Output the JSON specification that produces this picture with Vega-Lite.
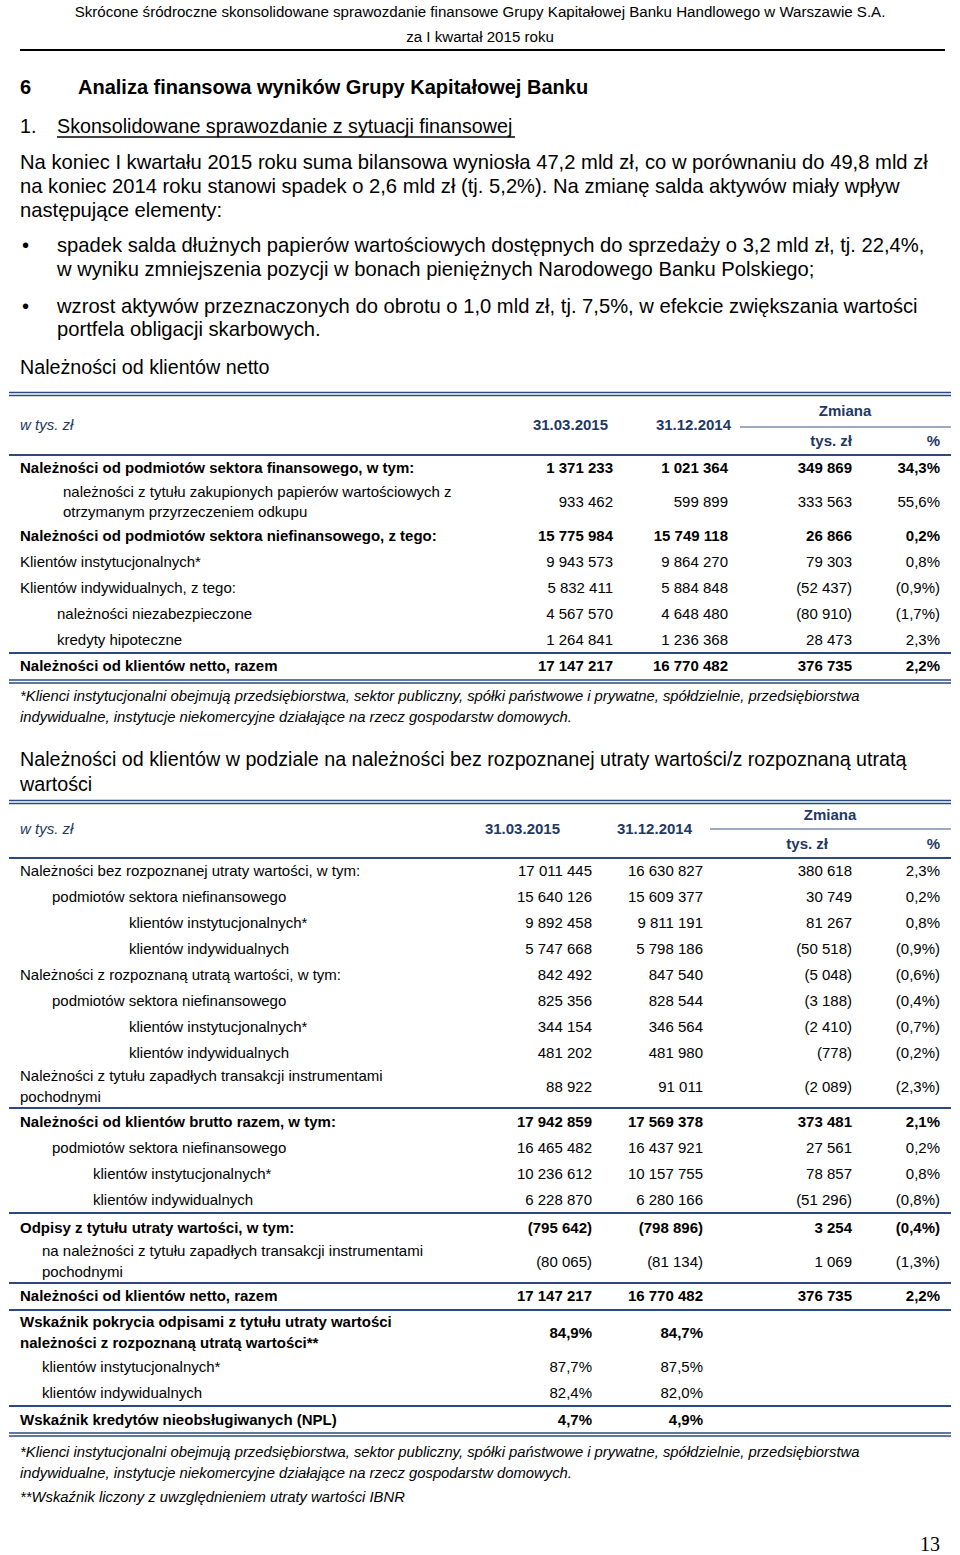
{
 "$schema": "https://vega.github.io/schema/vega-lite/v6.json",
 "width": 960, "height": 1555,
 "autosize": {"type": "fit", "contains": "padding"},
 "padding": 0,
 "background": "white",
 "config": {"view": {"stroke": null}, "text": {"font": "Liberation Sans, Arial, sans-serif", "baseline": "middle", "color": "#000000"}},
 "datasets": {
  "rules": [
   {"k":"blk","l":2,"c":1,"c2":27},
   {"k":"ul","l":5,"c":5,"c2":11},
   {"k":"nvd","l":14,"c":0,"c2":28},
   {"k":"nvd","l":15,"c":0,"c2":28},
   {"k":"nvt","l":18,"c":21,"c2":28},
   {"k":"nv","l":20,"c":0,"c2":28},
   {"k":"nv","l":28,"c":0,"c2":28},
   {"k":"nvd","l":30,"c":0,"c2":28},
   {"k":"nvd","l":31,"c":0,"c2":28},
   {"k":"nvd","l":36,"c":0,"c2":28},
   {"k":"nvd","l":37,"c":0,"c2":28},
   {"k":"nvt","l":39,"c":18,"c2":28},
   {"k":"nv","l":41,"c":0,"c2":28},
   {"k":"nv","l":51,"c":0,"c2":28},
   {"k":"nv","l":56,"c":0,"c2":28},
   {"k":"nv","l":59,"c":0,"c2":28},
   {"k":"nv","l":61,"c":0,"c2":28},
   {"k":"nv","l":65,"c":0,"c2":28},
   {"k":"nvd","l":67,"c":0,"c2":28},
   {"k":"nvd","l":68,"c":0,"c2":28}
  ],
  "texts": [
   {"k":"run","l":0,"c":10,"t":"Skrócone śródroczne skonsolidowane sprawozdanie finansowe Grupy Kapitałowej Banku Handlowego w Warszawie S.A."},
   {"k":"run","l":1,"c":10,"t":"za I kwartał 2015 roku"},
   {"k":"h1","l":3,"c":1,"t":"6"},
   {"k":"h1","l":3,"c":7,"t":"Analiza finansowa wyników Grupy Kapitałowej Banku"},
   {"k":"h2","l":4,"c":1,"t":"1."},
   {"k":"h2","l":4,"c":5,"t":"Skonsolidowane sprawozdanie z sytuacji finansowej"},
   {"k":"body","l":6,"c":1,"t":"Na koniec I kwartału 2015 roku suma bilansowa wyniosła 47,2 mld zł, co w porównaniu do 49,8 mld zł"},
   {"k":"body","l":7,"c":1,"t":"na koniec 2014 roku stanowi spadek o 2,6 mld zł (tj. 5,2%). Na zmianę salda aktywów miały wpływ"},
   {"k":"body","l":8,"c":1,"t":"następujące elementy:"},
   {"k":"body","l":9,"c":2,"t":"•"},
   {"k":"body","l":9,"c":5,"t":"spadek salda dłużnych papierów wartościowych dostępnych do sprzedaży o 3,2 mld zł, tj. 22,4%,"},
   {"k":"body","l":10,"c":5,"t":"w wyniku zmniejszenia pozycji w bonach pieniężnych Narodowego Banku Polskiego;"},
   {"k":"body","l":11,"c":2,"t":"•"},
   {"k":"body","l":11,"c":5,"t":"wzrost aktywów przeznaczonych do obrotu o 1,0 mld  zł, tj. 7,5%, w efekcie zwiększania wartości"},
   {"k":"body","l":12,"c":5,"t":"portfela obligacji skarbowych."},
   {"k":"h2","l":13,"c":1,"t":"Należności od klientów netto"},
   {"k":"hdI","l":17,"c":1,"t":"w tys. zł"},
   {"k":"hd","l":17,"c":14,"t":"31.03.2015"},
   {"k":"hd","l":17,"c":20,"t":"31.12.2014"},
   {"k":"hdC","l":16,"c":24,"t":"Zmiana"},
   {"k":"hd","l":19,"c":25,"t":"tys. zł"},
   {"k":"hd","l":19,"c":26,"t":"%"},
   {"k":"labB","l":21,"c":1,"t":"Należności od podmiotów sektora finansowego, w tym:"},
   {"k":"numB","l":21,"c":15,"t":"1 371 233"},{"k":"numB","l":21,"c":19,"t":"1 021 364"},{"k":"numB","l":21,"c":25,"t":"349 869"},{"k":"numB","l":21,"c":26,"t":"34,3%"},
   {"k":"lab2","l":22,"c":6,"t":"należności z tytułu zakupionych papierów wartościowych z\notrzymanym przyrzeczeniem odkupu"},
   {"k":"num","l":22,"c":15,"t":"933 462"},{"k":"num","l":22,"c":19,"t":"599 899"},{"k":"num","l":22,"c":25,"t":"333 563"},{"k":"num","l":22,"c":26,"t":"55,6%"},
   {"k":"labB","l":23,"c":1,"t":"Należności od podmiotów sektora niefinansowego, z tego:"},
   {"k":"numB","l":23,"c":15,"t":"15 775 984"},{"k":"numB","l":23,"c":19,"t":"15 749 118"},{"k":"numB","l":23,"c":25,"t":"26 866"},{"k":"numB","l":23,"c":26,"t":"0,2%"},
   {"k":"lab","l":24,"c":1,"t":"Klientów instytucjonalnych*"},
   {"k":"num","l":24,"c":15,"t":"9 943 573"},{"k":"num","l":24,"c":19,"t":"9 864 270"},{"k":"num","l":24,"c":25,"t":"79 303"},{"k":"num","l":24,"c":26,"t":"0,8%"},
   {"k":"lab","l":25,"c":1,"t":"Klientów indywidualnych, z tego:"},
   {"k":"num","l":25,"c":15,"t":"5 832 411"},{"k":"num","l":25,"c":19,"t":"5 884 848"},{"k":"num","l":25,"c":25,"t":"(52 437)"},{"k":"num","l":25,"c":26,"t":"(0,9%)"},
   {"k":"lab","l":26,"c":5,"t":"należności niezabezpieczone"},
   {"k":"num","l":26,"c":15,"t":"4 567 570"},{"k":"num","l":26,"c":19,"t":"4 648 480"},{"k":"num","l":26,"c":25,"t":"(80 910)"},{"k":"num","l":26,"c":26,"t":"(1,7%)"},
   {"k":"lab","l":27,"c":5,"t":"kredyty hipoteczne"},
   {"k":"num","l":27,"c":15,"t":"1 264 841"},{"k":"num","l":27,"c":19,"t":"1 236 368"},{"k":"num","l":27,"c":25,"t":"28 473"},{"k":"num","l":27,"c":26,"t":"2,3%"},
   {"k":"labB","l":29,"c":1,"t":"Należności od klientów netto, razem"},
   {"k":"numB","l":29,"c":15,"t":"17 147 217"},{"k":"numB","l":29,"c":19,"t":"16 770 482"},{"k":"numB","l":29,"c":25,"t":"376 735"},{"k":"numB","l":29,"c":26,"t":"2,2%"},
   {"k":"note","l":32,"c":1,"t":"*Klienci instytucjonalni obejmują przedsiębiorstwa, sektor publiczny, spółki państwowe i prywatne, spółdzielnie, przedsiębiorstwa"},
   {"k":"note","l":33,"c":1,"t":"indywidualne, instytucje niekomercyjne działające na rzecz gospodarstw domowych."},
   {"k":"h2","l":34,"c":1,"t":"Należności od klientów w podziale na należności bez rozpoznanej utraty wartości/z rozpoznaną utratą"},
   {"k":"h2","l":35,"c":1,"t":"wartości"},
   {"k":"hdI","l":39,"c":1,"t":"w tys. zł"},
   {"k":"hd","l":39,"c":12,"t":"31.03.2015"},
   {"k":"hd","l":39,"c":16,"t":"31.12.2014"},
   {"k":"hdC","l":38,"c":23,"t":"Zmiana"},
   {"k":"hd","l":40,"c":22,"t":"tys. zł"},
   {"k":"hd","l":40,"c":26,"t":"%"},
   {"k":"lab","l":42,"c":1,"t":"Należności bez rozpoznanej utraty wartości, w tym:"},
   {"k":"num","l":42,"c":13,"t":"17 011 445"},{"k":"num","l":42,"c":17,"t":"16 630 827"},{"k":"num","l":42,"c":25,"t":"380 618"},{"k":"num","l":42,"c":26,"t":"2,3%"},
   {"k":"lab","l":43,"c":4,"t":"podmiotów sektora niefinansowego"},
   {"k":"num","l":43,"c":13,"t":"15 640 126"},{"k":"num","l":43,"c":17,"t":"15 609 377"},{"k":"num","l":43,"c":25,"t":"30 749"},{"k":"num","l":43,"c":26,"t":"0,2%"},
   {"k":"lab","l":44,"c":9,"t":"klientów instytucjonalnych*"},
   {"k":"num","l":44,"c":13,"t":"9 892 458"},{"k":"num","l":44,"c":17,"t":"9 811 191"},{"k":"num","l":44,"c":25,"t":"81 267"},{"k":"num","l":44,"c":26,"t":"0,8%"},
   {"k":"lab","l":45,"c":9,"t":"klientów indywidualnych"},
   {"k":"num","l":45,"c":13,"t":"5 747 668"},{"k":"num","l":45,"c":17,"t":"5 798 186"},{"k":"num","l":45,"c":25,"t":"(50 518)"},{"k":"num","l":45,"c":26,"t":"(0,9%)"},
   {"k":"lab","l":46,"c":1,"t":"Należności z rozpoznaną utratą wartości, w tym:"},
   {"k":"num","l":46,"c":13,"t":"842 492"},{"k":"num","l":46,"c":17,"t":"847 540"},{"k":"num","l":46,"c":25,"t":"(5 048)"},{"k":"num","l":46,"c":26,"t":"(0,6%)"},
   {"k":"lab","l":47,"c":4,"t":"podmiotów sektora niefinansowego"},
   {"k":"num","l":47,"c":13,"t":"825 356"},{"k":"num","l":47,"c":17,"t":"828 544"},{"k":"num","l":47,"c":25,"t":"(3 188)"},{"k":"num","l":47,"c":26,"t":"(0,4%)"},
   {"k":"lab","l":48,"c":9,"t":"klientów instytucjonalnych*"},
   {"k":"num","l":48,"c":13,"t":"344 154"},{"k":"num","l":48,"c":17,"t":"346 564"},{"k":"num","l":48,"c":25,"t":"(2 410)"},{"k":"num","l":48,"c":26,"t":"(0,7%)"},
   {"k":"lab","l":49,"c":9,"t":"klientów indywidualnych"},
   {"k":"num","l":49,"c":13,"t":"481 202"},{"k":"num","l":49,"c":17,"t":"481 980"},{"k":"num","l":49,"c":25,"t":"(778)"},{"k":"num","l":49,"c":26,"t":"(0,2%)"},
   {"k":"lab2","l":50,"c":1,"t":"Należności z tytułu zapadłych transakcji instrumentami\npochodnymi"},
   {"k":"num","l":50,"c":13,"t":"88 922"},{"k":"num","l":50,"c":17,"t":"91 011"},{"k":"num","l":50,"c":25,"t":"(2 089)"},{"k":"num","l":50,"c":26,"t":"(2,3%)"},
   {"k":"labB","l":52,"c":1,"t":"Należności od klientów brutto razem, w tym:"},
   {"k":"numB","l":52,"c":13,"t":"17 942 859"},{"k":"numB","l":52,"c":17,"t":"17 569 378"},{"k":"numB","l":52,"c":25,"t":"373 481"},{"k":"numB","l":52,"c":26,"t":"2,1%"},
   {"k":"lab","l":53,"c":4,"t":"podmiotów sektora niefinansowego"},
   {"k":"num","l":53,"c":13,"t":"16 465 482"},{"k":"num","l":53,"c":17,"t":"16 437 921"},{"k":"num","l":53,"c":25,"t":"27 561"},{"k":"num","l":53,"c":26,"t":"0,2%"},
   {"k":"lab","l":54,"c":8,"t":"klientów instytucjonalnych*"},
   {"k":"num","l":54,"c":13,"t":"10 236 612"},{"k":"num","l":54,"c":17,"t":"10 157 755"},{"k":"num","l":54,"c":25,"t":"78 857"},{"k":"num","l":54,"c":26,"t":"0,8%"},
   {"k":"lab","l":55,"c":8,"t":"klientów indywidualnych"},
   {"k":"num","l":55,"c":13,"t":"6 228 870"},{"k":"num","l":55,"c":17,"t":"6 280 166"},{"k":"num","l":55,"c":25,"t":"(51 296)"},{"k":"num","l":55,"c":26,"t":"(0,8%)"},
   {"k":"labB","l":57,"c":1,"t":"Odpisy z tytułu utraty wartości, w tym:"},
   {"k":"numB","l":57,"c":13,"t":"(795 642)"},{"k":"numB","l":57,"c":17,"t":"(798 896)"},{"k":"numB","l":57,"c":25,"t":"3 254"},{"k":"numB","l":57,"c":26,"t":"(0,4%)"},
   {"k":"lab2","l":58,"c":3,"t":"na należności z tytułu zapadłych transakcji instrumentami\npochodnymi"},
   {"k":"num","l":58,"c":13,"t":"(80 065)"},{"k":"num","l":58,"c":17,"t":"(81 134)"},{"k":"num","l":58,"c":25,"t":"1 069"},{"k":"num","l":58,"c":26,"t":"(1,3%)"},
   {"k":"labB","l":60,"c":1,"t":"Należności od klientów netto, razem"},
   {"k":"numB","l":60,"c":13,"t":"17 147 217"},{"k":"numB","l":60,"c":17,"t":"16 770 482"},{"k":"numB","l":60,"c":25,"t":"376 735"},{"k":"numB","l":60,"c":26,"t":"2,2%"},
   {"k":"labB2","l":62,"c":1,"t":"Wskaźnik pokrycia odpisami z tytułu utraty wartości\nnależności z rozpoznaną utratą wartości**"},
   {"k":"numB","l":62,"c":13,"t":"84,9%"},{"k":"numB","l":62,"c":17,"t":"84,7%"},
   {"k":"lab","l":63,"c":3,"t":"klientów instytucjonalnych*"},
   {"k":"num","l":63,"c":13,"t":"87,7%"},{"k":"num","l":63,"c":17,"t":"87,5%"},
   {"k":"lab","l":64,"c":3,"t":"klientów indywidualnych"},
   {"k":"num","l":64,"c":13,"t":"82,4%"},{"k":"num","l":64,"c":17,"t":"82,0%"},
   {"k":"labB","l":66,"c":1,"t":"Wskaźnik kredytów nieobsługiwanych (NPL)"},
   {"k":"numB","l":66,"c":13,"t":"4,7%"},{"k":"numB","l":66,"c":17,"t":"4,9%"},
   {"k":"note","l":69,"c":1,"t":"*Klienci instytucjonalni obejmują przedsiębiorstwa, sektor publiczny, spółki państwowe i prywatne, spółdzielnie, przedsiębiorstwa"},
   {"k":"note","l":70,"c":1,"t":"indywidualne, instytucje niekomercyjne działające na rzecz gospodarstw domowych."},
   {"k":"note","l":71,"c":1,"t":"**Wskaźnik liczony z uwzględnieniem utraty wartości IBNR"},
   {"k":"pg","l":72,"c":26,"t":"13"}
  ]
 },
 "encoding": {
  "x": {"field": "c", "type": "quantitative", "axis": null,
        "scale": {"domain": [0,1,2,3,4,5,6,7,8,9,10,11,12,13,14,15,16,17,18,19,20,21,22,23,24,25,26,27,28],
                  "range": [9,20,22,42,52,57,63,78,93,129,480,515,560,592,608,613,692,703,710,728,731,740,828,830,845,852,940,945,951],
                  "nice": false, "zero": false}},
  "y": {"field": "l", "type": "quantitative", "axis": null,
        "scale": {"domain": [0,1,2,3,4,5,6,7,8,9,10,11,12,13,14,15,16,17,18,19,20,21,22,23,24,25,26,27,28,29,30,31,32,33,34,35,36,37,38,39,40,41,42,43,44,45,46,47,48,49,50,51,52,53,54,55,56,57,58,59,60,61,62,63,64,65,66,67,68,69,70,71,72],
                  "range": [12,37,50,88,127,137,163,187,211,246,270,307,330,368,392.5,395.5,411,425,427,441,455,468,502,536,562,588,614,640,653,666,680,683,697,718,760,785,800.5,803.5,815,829,844,858,871,897,923,949,975,1001,1027,1053,1086.5,1108,1122,1148,1174,1200,1213,1228,1261.5,1283,1296,1310,1332.5,1367,1393,1406,1420,1433,1436,1453,1474,1498,1545],
                  "nice": false, "zero": false}}
 },
 "layer": [
  {"data": {"name": "rules"}, "transform": [{"filter": "datum.k === 'blk'"}], "mark": {"type": "rule", "stroke": "#000000", "strokeWidth": 2}, "encoding": {"x2": {"field": "c2"}}},
  {"data": {"name": "rules"}, "transform": [{"filter": "datum.k === 'ul'"}], "mark": {"type": "rule", "stroke": "#000000", "strokeWidth": 1.3}, "encoding": {"x2": {"field": "c2"}}},
  {"data": {"name": "rules"}, "transform": [{"filter": "datum.k === 'nv'"}], "mark": {"type": "rule", "stroke": "#2c4a7e", "strokeWidth": 2}, "encoding": {"x2": {"field": "c2"}}},
  {"data": {"name": "rules"}, "transform": [{"filter": "datum.k === 'nvd'"}], "mark": {"type": "rule", "stroke": "#2c4a7e", "strokeWidth": 1.4}, "encoding": {"x2": {"field": "c2"}}},
  {"data": {"name": "rules"}, "transform": [{"filter": "datum.k === 'nvt'"}], "mark": {"type": "rule", "stroke": "#3d5582", "strokeWidth": 1.2}, "encoding": {"x2": {"field": "c2"}}},
  {"data": {"name": "texts"}, "transform": [{"filter": "datum.k === 'run'"}], "mark": {"type": "text", "fontSize": 15.1, "align": "center"}, "encoding": {"text": {"field": "t"}}},
  {"data": {"name": "texts"}, "transform": [{"filter": "datum.k === 'h1'"}], "mark": {"type": "text", "fontSize": 20, "fontWeight": "bold", "align": "left"}, "encoding": {"text": {"field": "t"}}},
  {"data": {"name": "texts"}, "transform": [{"filter": "datum.k === 'h2'"}], "mark": {"type": "text", "fontSize": 19.7, "align": "left"}, "encoding": {"text": {"field": "t"}}},
  {"data": {"name": "texts"}, "transform": [{"filter": "datum.k === 'body'"}], "mark": {"type": "text", "fontSize": 20.2, "align": "left"}, "encoding": {"text": {"field": "t"}}},
  {"data": {"name": "texts"}, "transform": [{"filter": "datum.k === 'note'"}], "mark": {"type": "text", "fontSize": 14.8, "fontStyle": "italic", "align": "left"}, "encoding": {"text": {"field": "t"}}},
  {"data": {"name": "texts"}, "transform": [{"filter": "datum.k === 'lab'"}], "mark": {"type": "text", "fontSize": 15, "align": "left"}, "encoding": {"text": {"field": "t"}}},
  {"data": {"name": "texts"}, "transform": [{"filter": "datum.k === 'lab2'"}], "mark": {"type": "text", "fontSize": 15, "align": "left", "lineBreak": "\n", "lineHeight": 20.5, "dy": -10.25}, "encoding": {"text": {"field": "t"}}},
  {"data": {"name": "texts"}, "transform": [{"filter": "datum.k === 'labB'"}], "mark": {"type": "text", "fontSize": 15, "fontWeight": "bold", "align": "left"}, "encoding": {"text": {"field": "t"}}},
  {"data": {"name": "texts"}, "transform": [{"filter": "datum.k === 'labB2'"}], "mark": {"type": "text", "fontSize": 15, "fontWeight": "bold", "align": "left", "lineBreak": "\n", "lineHeight": 20.5, "dy": -10.25}, "encoding": {"text": {"field": "t"}}},
  {"data": {"name": "texts"}, "transform": [{"filter": "datum.k === 'num'"}], "mark": {"type": "text", "fontSize": 15, "align": "right"}, "encoding": {"text": {"field": "t"}}},
  {"data": {"name": "texts"}, "transform": [{"filter": "datum.k === 'numB'"}], "mark": {"type": "text", "fontSize": 15, "fontWeight": "bold", "align": "right"}, "encoding": {"text": {"field": "t"}}},
  {"data": {"name": "texts"}, "transform": [{"filter": "datum.k === 'hd'"}], "mark": {"type": "text", "fontSize": 15, "fontWeight": "bold", "align": "right", "color": "#1f3864"}, "encoding": {"text": {"field": "t"}}},
  {"data": {"name": "texts"}, "transform": [{"filter": "datum.k === 'hdC'"}], "mark": {"type": "text", "fontSize": 15, "fontWeight": "bold", "align": "center", "color": "#1f3864"}, "encoding": {"text": {"field": "t"}}},
  {"data": {"name": "texts"}, "transform": [{"filter": "datum.k === 'hdI'"}], "mark": {"type": "text", "fontSize": 15, "fontStyle": "italic", "align": "left", "color": "#1f3864"}, "encoding": {"text": {"field": "t"}}},
  {"data": {"name": "texts"}, "transform": [{"filter": "datum.k === 'pg'"}], "mark": {"type": "text", "fontSize": 20, "font": "Liberation Serif", "align": "right"}, "encoding": {"text": {"field": "t"}}}
 ]
}
